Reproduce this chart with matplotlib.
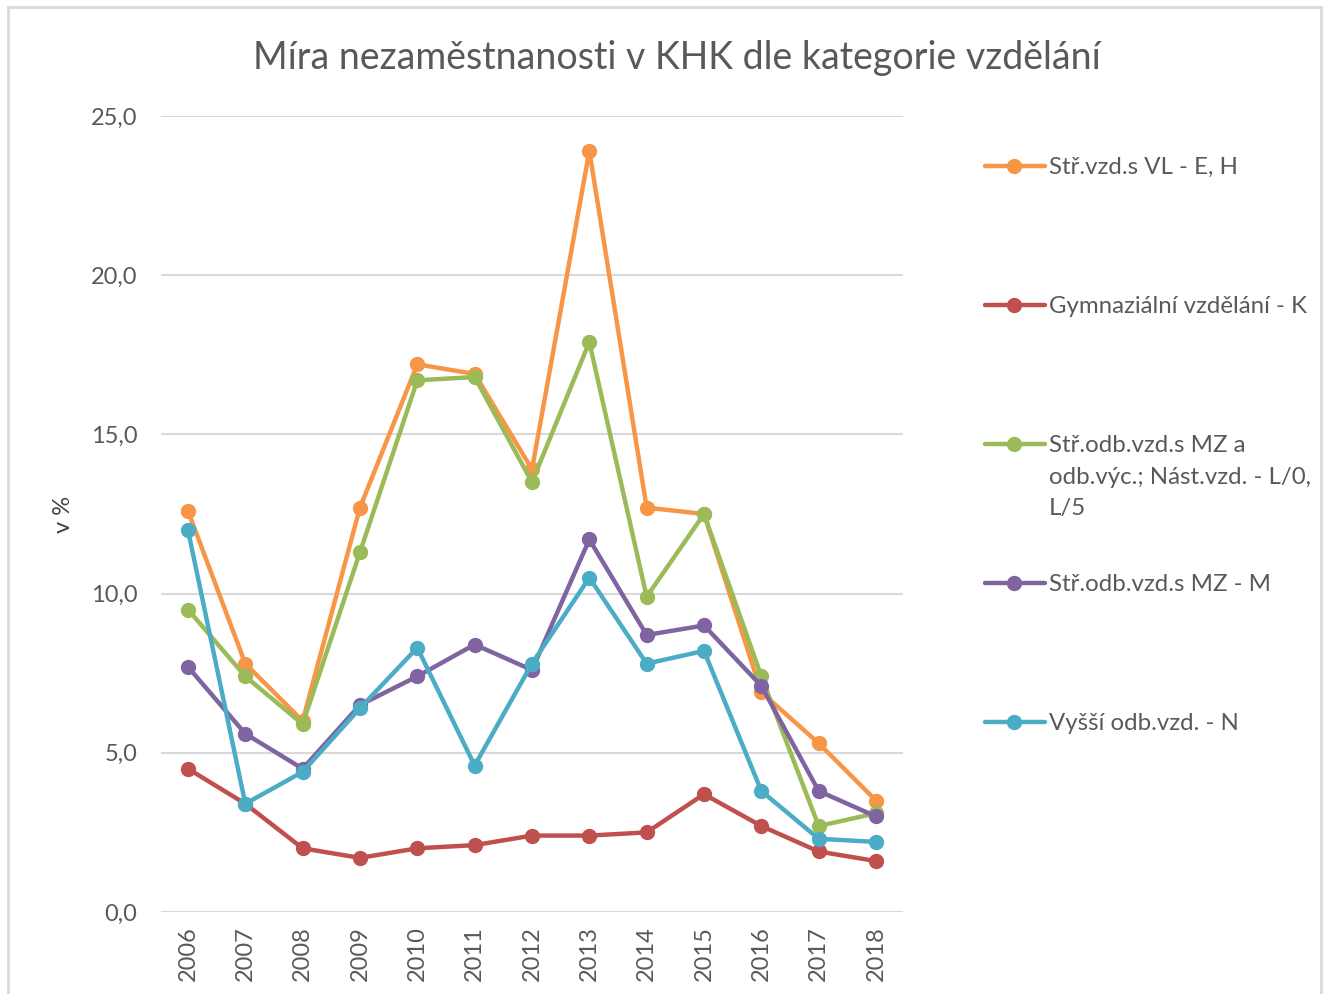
import matplotlib.pyplot as plt
from matplotlib.lines import Line2D
from matplotlib.ticker import FuncFormatter

# roky a míra nezaměstnanosti (v %) podle kategorie vzdělání
years = ['2006', '2007', '2008', '2009', '2010', '2011', '2012',
         '2013', '2014', '2015', '2016', '2017', '2018']
str_vl = [12.6, 7.8, 6.0, 12.7, 17.2, 16.9, 13.9, 23.9, 12.7, 12.5, 6.9, 5.3, 3.5]
gymn = [4.5, 3.4, 2.0, 1.7, 2.0, 2.1, 2.4, 2.4, 2.5, 3.7, 2.7, 1.9, 1.6]
str_mz_vyc = [9.5, 7.4, 5.9, 11.3, 16.7, 16.8, 13.5, 17.9, 9.9, 12.5, 7.4, 2.7, 3.1]
str_mz = [7.7, 5.6, 4.5, 6.5, 7.4, 8.4, 7.6, 11.7, 8.7, 9.0, 7.1, 3.8, 3.0]
vyssi = [12.0, 3.4, 4.4, 6.4, 8.3, 4.6, 7.8, 10.5, 7.8, 8.2, 3.8, 2.3, 2.2]

labels = ['Stř.vzd.s VL - E, H',
          'Gymnaziální vzdělání - K',
          'Stř.odb.vzd.s MZ a\nodb.výc.; Nást.vzd. - L/0,\nL/5',
          'Stř.odb.vzd.s MZ - M',
          'Vyšší odb.vzd. - N']
series = [str_vl, gymn, str_mz_vyc, str_mz, vyssi]
colors = ['#F79646', '#C0504D', '#9BBB59', '#8064A2', '#4BACC6']

plt.rcParams['font.family'] = ['Lato', 'DejaVu Sans']
text_color = '#595959'

fig = plt.figure(figsize=(13.24, 9.94), dpi=100)
ax = fig.add_axes([0.1216, 0.0825, 0.5604, 0.8008])

x = range(len(years))
for vals, col in zip(series, colors):
    ax.plot(x, vals, color=col, linewidth=3.2, marker='o', markersize=10,
            solid_capstyle='round', zorder=3)

ax.set_xlim(-0.47, len(years) - 0.53)
ax.set_ylim(0, 25)
ax.set_yticks([0, 5, 10, 15, 20, 25])
ax.yaxis.set_major_formatter(FuncFormatter(lambda v, p: f'{v:.1f}'.replace('.', ',')))
ax.set_xticks(list(x))
ax.set_xticklabels(years, rotation=90)
ax.tick_params(axis='both', length=0, labelsize=17, colors=text_color)
ax.tick_params(axis='y', pad=17)
ax.tick_params(axis='x', pad=10)
ax.grid(axis='y', color='#d9d9d9', linewidth=1.5)
ax.set_axisbelow(True)
for s in ax.spines.values():
    s.set_visible(False)
ax.set_ylabel('v %', fontsize=17, color='#404040', labelpad=12)

fig.text(0.511, 0.942, 'Míra nezaměstnanosti v KHK dle kategorie vzdělání',
         ha='center', va='center', fontsize=27, color=text_color)

# legenda vpravo, položky po stejných rozestupech
leg_y = [166, 305, 444, 583, 722]
for lab, col, yp in zip(labels, colors, leg_y):
    yf = 1 - yp / 994
    fig.add_artist(Line2D([985 / 1324, 1045 / 1324], [yf, yf], color=col,
                          linewidth=3.2, solid_capstyle='round'))
    fig.add_artist(Line2D([1014 / 1324], [yf], color=col, marker='o',
                          markersize=10, linestyle='none'))
    fig.text(1049 / 1324, yf + 9 / 994, lab, ha='left', va='top',
             fontsize=17.3, color=text_color, linespacing=1.62)

# rámeček grafu
fig.add_artist(plt.Rectangle((8 / 1324, -0.01), 1313 / 1324, 1 - 7 / 994 + 0.01,
                             fill=False, edgecolor='#d9d9d9', linewidth=2))

fig.savefig('out.png', dpi=100)
